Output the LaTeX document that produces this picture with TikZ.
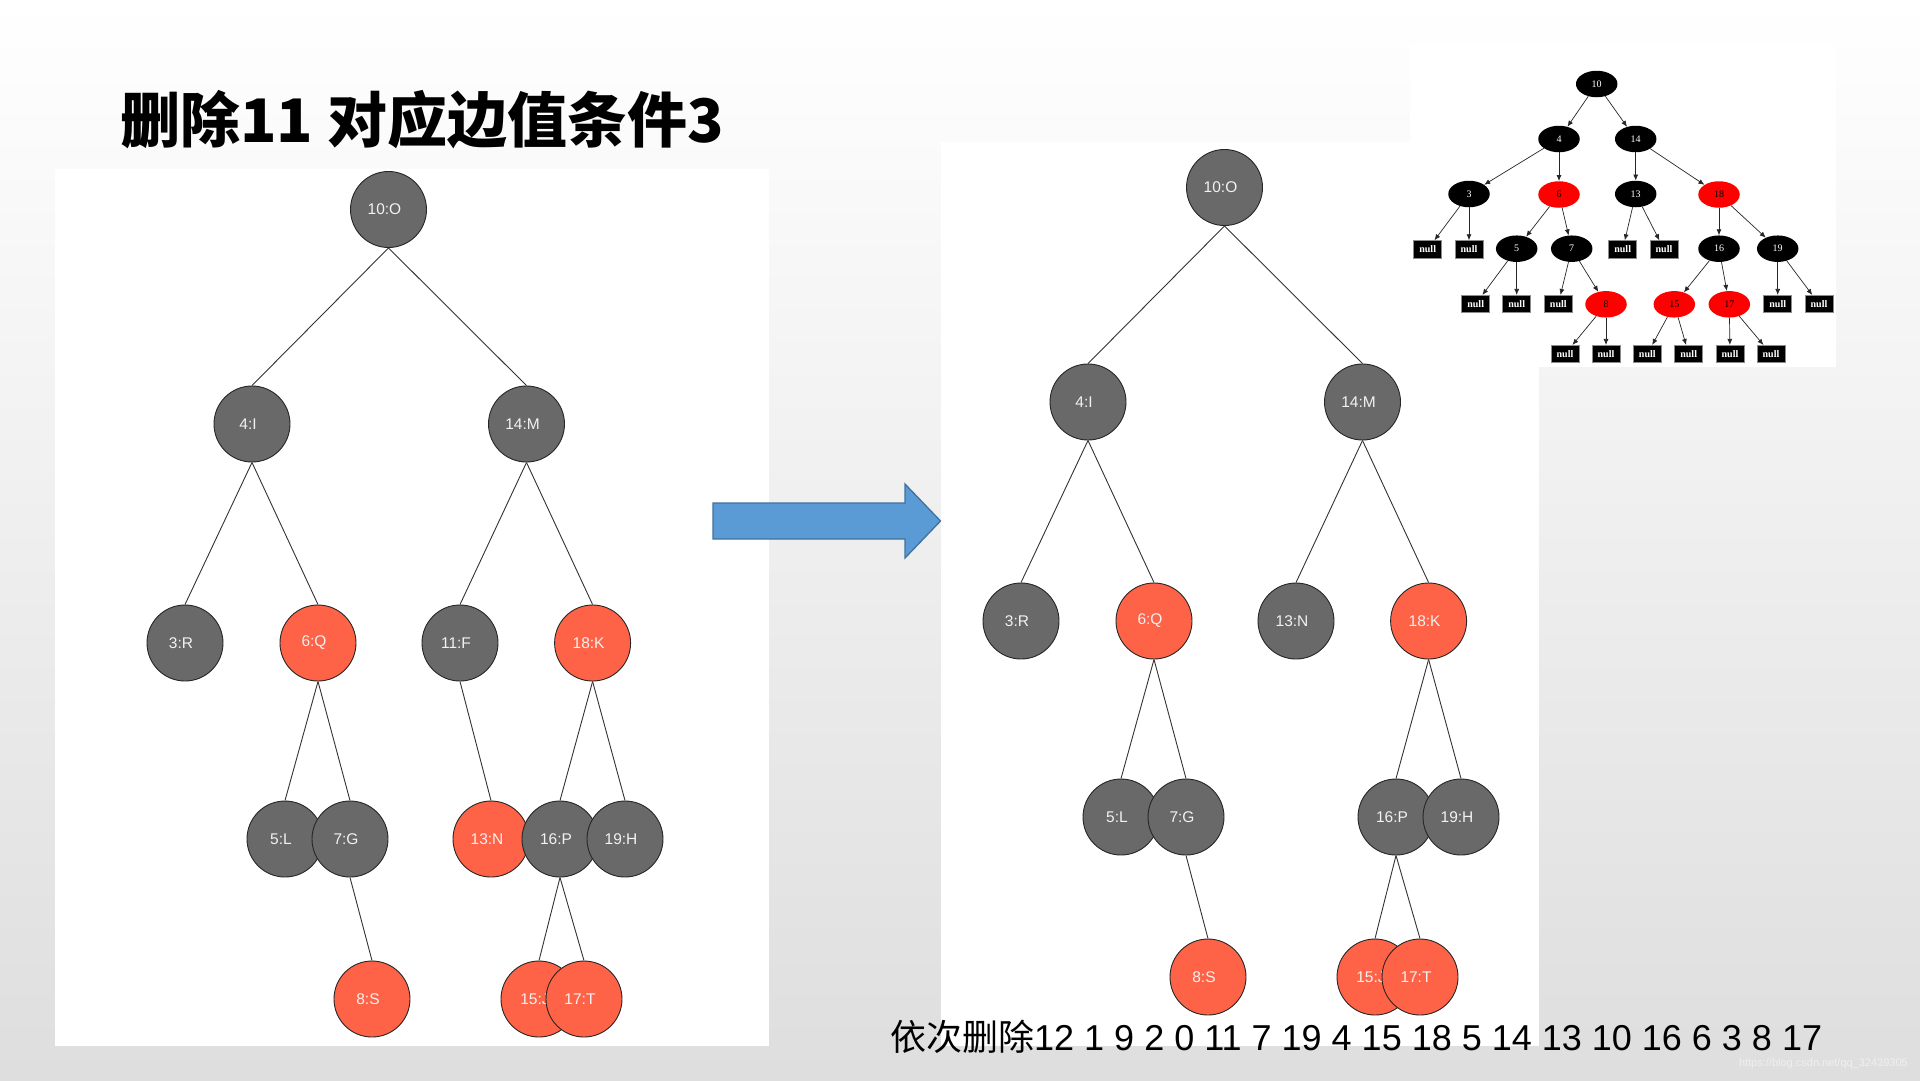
\documentclass[tikz,border=0pt]{standalone}
\usepackage{fontspec}
\setmainfont{Liberation Sans}
\newfontfamily\cjk{Noto Sans CJK SC}
\newfontfamily\tms{Liberation Serif}
\usetikzlibrary{shapes.geometric,arrows.meta}
\definecolor{ngray}{HTML}{696969}
\definecolor{nred}{HTML}{FF6347}
\definecolor{ablue}{HTML}{5B9BD5}
\definecolor{ablueb}{HTML}{41719C}
\definecolor{ntext}{HTML}{F2F2F2}
\tikzset{
  bnode/.style={circle, draw=black!85, line width=0.9pt, fill=ngray, minimum size=76pt,
    inner sep=0pt, text=ntext, font=\fontsize{15.5}{17}\selectfont,
    execute at begin node={\hspace*{-8pt}}},
  rnode/.style={bnode, fill=nred},
  tedge/.style={draw=black!80, line width=0.9pt},
  sblk/.style={ellipse, fill=black, minimum width=41.5pt, minimum height=26.5pt, inner sep=0pt,
    text=white, font=\tms\fontsize{10}{10}\selectfont},
  sred/.style={sblk, fill=red, text=black},
  snull/.style={rectangle, fill=black, draw=black!45, line width=0.6pt, minimum width=28pt,
    minimum height=17.5pt, inner sep=0pt, text=white, font=\tms\bfseries\fontsize{10}{10}\selectfont},
  sarr/.style={-{Latex[length=6pt,width=5pt]}, line width=0.7pt, draw=black!85}
}
\begin{document}
\begin{tikzpicture}[x=1pt,y=-1pt]
\useasboundingbox (0,0) rectangle (1920,1080);
\shade[top color=white, bottom color=gray!26] (0,0) rectangle (1920,1080);
% panels
\fill[white] (55,169) rectangle (769,1046);
\fill[white] (941,142) rectangle (1539,1046);
\fill[white] (1410,45) rectangle (1836,367);

% title
\node[anchor=west, inner sep=0pt, font=\cjk\bfseries\fontsize{60}{60}\selectfont] (title) at (120,120) {删除11 对应边值条件3};

% ---------- left tree ----------
\node[bnode] (L10) at (388.5,209.5) {10:O};
\node[bnode] (L4) at (252,424) {4:I};
\node[bnode] (L14) at (526.5,424) {14:M};
\node[bnode] (L3) at (185,643) {3:R};
\node[rnode] (L6) at (318,643) {6:Q};
\node[bnode] (L11) at (460,643) {11:F};
\node[rnode] (L18) at (592.6,643) {18:K};
\node[bnode] (L5) at (285,839) {5:L};
\node[bnode] (L7) at (350,839) {7:G};
\node[rnode] (L13) at (491,839) {13:N};
\node[bnode] (L16) at (560,839) {16:P};
\node[bnode] (L19) at (625,839) {19:H};
\node[rnode] (L8) at (372,999) {8:S};
\node[rnode] (L15) at (539,999) {15:J};
\node[rnode] (L17) at (584,999) {17:T};
\foreach \a/\b in {L10/L4,L10/L14,L4/L3,L4/L6,L14/L11,L14/L18,L6/L5,L6/L7,L11/L13,L18/L16,L18/L19,L7/L8,L16/L15,L16/L17}
  \draw[tedge] (\a.south) -- (\b.north);

% ---------- right tree ----------
\node[bnode] (R10) at (1224.5,187.5) {10:O};
\node[bnode] (R4) at (1088,402) {4:I};
\node[bnode] (R14) at (1362.5,402) {14:M};
\node[bnode] (R3) at (1021,621) {3:R};
\node[rnode] (R6) at (1154,621) {6:Q};
\node[bnode] (R13) at (1296,621) {13:N};
\node[rnode] (R18) at (1428.6,621) {18:K};
\node[bnode] (R5) at (1121,817) {5:L};
\node[bnode] (R7) at (1186,817) {7:G};
\node[bnode] (R16) at (1396,817) {16:P};
\node[bnode] (R19) at (1461,817) {19:H};
\node[rnode] (R8) at (1208,977) {8:S};
\node[rnode] (R15) at (1375,977) {15:J};
\node[rnode] (R17) at (1420,977) {17:T};
\foreach \a/\b in {R10/R4,R10/R14,R4/R3,R4/R6,R14/R13,R14/R18,R6/R5,R6/R7,R7/R8,R18/R16,R18/R19,R16/R15,R16/R17}
  \draw[tedge] (\a.south) -- (\b.north);

% ---------- block arrow ----------
\draw[fill=ablue, draw=ablueb, line width=1.3pt, line join=miter]
  (713,503) -- (905,503) -- (905,484) -- (940.5,521) -- (905,558) -- (905,539) -- (713,539) -- cycle;

% ---------- small red-black tree ----------
\node[sblk] (s10) at (1596.7,84) {10};
\node[sblk] (s4) at (1559,139) {4};
\node[sblk] (s14) at (1635.7,139) {14};
\node[sblk] (s3) at (1469,194) {3};
\node[sred] (s6) at (1559,194.5) {6};
\node[sblk] (s13) at (1635.7,194) {13};
\node[sred] (s18) at (1719,194.5) {18};
\node[snull] (n3a) at (1427.7,249.3) {null};
\node[snull] (n3b) at (1469,249.3) {null};
\node[sblk] (s5) at (1516.7,248.7) {5};
\node[sblk] (s7) at (1571.7,248.7) {7};
\node[snull] (n13a) at (1622.7,249.3) {null};
\node[snull] (n13b) at (1664,249.3) {null};
\node[sblk] (s16) at (1719,248.7) {16};
\node[sblk] (s19) at (1777.7,248.7) {19};
\node[snull] (n5a) at (1475.7,304) {null};
\node[snull] (n5b) at (1516.7,304) {null};
\node[snull] (n7a) at (1558.3,304) {null};
\node[sred] (s8) at (1606,304.3) {8};
\node[sred] (s15) at (1674.3,304.3) {15};
\node[sred] (s17) at (1729.3,304.3) {17};
\node[snull] (n19a) at (1777.7,304) {null};
\node[snull] (n19b) at (1819,304) {null};
\node[snull] (n8a) at (1565,354) {null};
\node[snull] (n8b) at (1606,354) {null};
\node[snull] (n15a) at (1647.3,354) {null};
\node[snull] (n15b) at (1688.7,354) {null};
\node[snull] (n17a) at (1730,354) {null};
\node[snull] (n17b) at (1771,354) {null};
\foreach \a/\b in {s10/s4,s10/s14,s4/s3,s4/s6,s14/s13,s14/s18,s3/n3a,s3/n3b,s6/s5,s6/s7,
  s13/n13a,s13/n13b,s18/s16,s18/s19,s5/n5a,s5/n5b,s7/n7a,s7/s8,s16/s15,s16/s17,
  s19/n19a,s19/n19b,s8/n8a,s8/n8b,s15/n15a,s15/n15b,s17/n17a,s17/n17b}
  \draw[sarr] (\a) -- (\b);

% ---------- bottom text ----------
\node[anchor=base west, inner sep=0pt, font=\fontsize{36}{36}\selectfont] (seq) at (890,1050)
  {{\cjk 依次删除}12 1 9 2 0 11 7 19 4 15 18 5 14 13 10 16 6 3 8 17};
\node[anchor=base east, inner sep=0pt, text=white!94!black, font=\fontsize{11}{11}\selectfont] (wm) at (1908,1066)
  {https://blog.csdn.net/qq\_32439305};
\end{tikzpicture}
\end{document}
